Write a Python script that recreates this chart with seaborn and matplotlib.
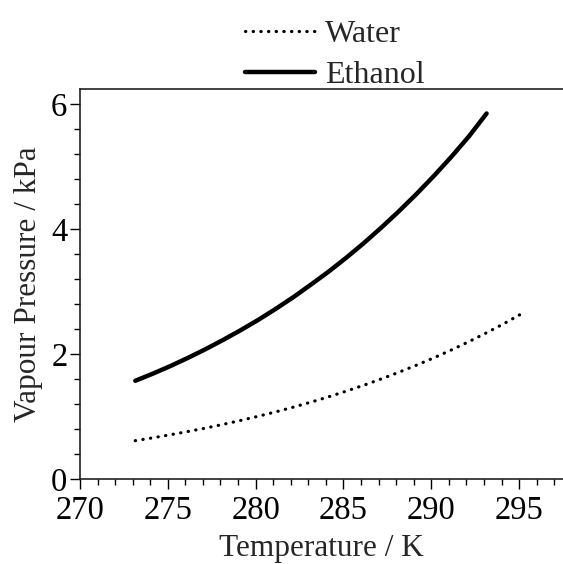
import matplotlib
matplotlib.use('Agg')
import matplotlib.pyplot as plt
from matplotlib.ticker import MultipleLocator
import numpy as np
import pandas as pd
import seaborn as sns

# temperatures in K, pressures in kPa
temp_water = [273.15, 274.15, 275.15, 276.15, 277.15, 278.15, 279.15, 280.15,
              281.15, 282.15, 283.15, 284.15, 285.15, 286.15, 287.15, 288.15,
              289.15, 290.15, 291.15, 292.15, 293.15, 294.15, 295.15]
p_water = [0.611, 0.657, 0.706, 0.758, 0.813, 0.872, 0.935, 1.002,
           1.073, 1.148, 1.228, 1.313, 1.403, 1.498, 1.599, 1.706,
           1.819, 1.938, 2.064, 2.198, 2.339, 2.487, 2.645]

temp_ethanol = [273.15, 274.15, 275.15, 276.15, 277.15, 278.15, 279.15, 280.15,
                281.15, 282.15, 283.15, 284.15, 285.15, 286.15, 287.15, 288.15,
                289.15, 290.15, 291.15, 292.15, 293.15]
p_ethanol = [1.57, 1.684, 1.806, 1.937, 2.076, 2.224, 2.380, 2.545,
             2.722, 2.909, 3.11, 3.316, 3.538, 3.772, 4.021, 4.282,
             4.558, 4.850, 5.158, 5.485, 5.85]

df_w = pd.DataFrame({'T': temp_water, 'P': p_water})
df_e = pd.DataFrame({'T': temp_ethanol, 'P': p_ethanol})

sns.set_theme(style='ticks')
plt.rcParams['font.family'] = ['Liberation Serif', 'DejaVu Serif']

fig = plt.figure(figsize=(5.63, 5.64), dpi=100)
ax = fig.add_axes([0.142, 0.151, 0.858, 0.691])

sns.lineplot(data=df_w, x='T', y='P', ax=ax, color='black', lw=2.3,
             linestyle=(0, (0.1, 2.3)), dash_capstyle='round', label='Water')
sns.lineplot(data=df_e, x='T', y='P', ax=ax, color='black', lw=3.2,
             solid_capstyle='round', label='Ethanol')

ax.set_xlim(270, 297.5)
ax.set_ylim(0, 6.24)
ax.xaxis.set_major_locator(MultipleLocator(5))
ax.xaxis.set_minor_locator(MultipleLocator(1))
ax.yaxis.set_major_locator(MultipleLocator(2))
ax.yaxis.set_minor_locator(MultipleLocator(0.4))
ax.tick_params(which='major', direction='out', length=7, width=1, labelsize=23.5,
               colors='black', pad=2)
ax.tick_params(axis='x', which='major', pad=5)
ax.tick_params(which='minor', direction='out', length=4, width=1, colors='black')
for s in ax.spines.values():
    s.set_color('#222222')
    s.set_linewidth(1.2)
ax.spines['right'].set_visible(False)

ax.set_xlabel('Temperature / K', fontsize=22.5, labelpad=6)
ax.set_ylabel('Vapour Pressure / kPa', fontsize=22.5, labelpad=6)

ax.get_legend().remove()
h, l = ax.get_legend_handles_labels()
fig.legend(h, l, loc='upper left', bbox_to_anchor=(0.395, 1.005),
           frameon=False, fontsize=23, handlelength=2.2, handletextpad=0.3,
           labelspacing=0.38, borderpad=0.2)

fig.savefig('out.png', dpi=100)
